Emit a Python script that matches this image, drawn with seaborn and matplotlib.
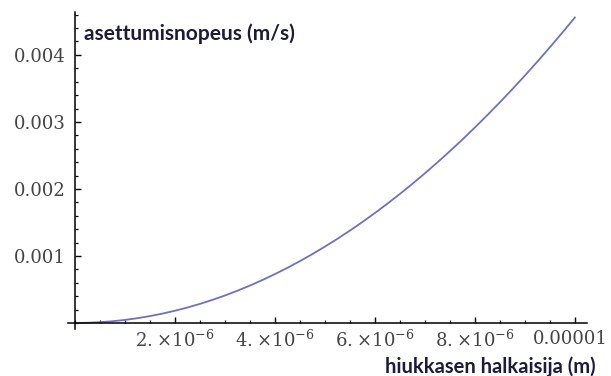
import numpy as np
import matplotlib
matplotlib.use("Agg")
import matplotlib.pyplot as plt
import matplotlib.transforms as mtrans
from matplotlib.ticker import MultipleLocator, FixedLocator, FixedFormatter
import seaborn as sns
import pandas as pd

# Data: particle diameter (m) vs settling velocity (m/s)
diameter = [0.0, 0.25e-6, 0.5e-6, 0.75e-6, 1.0e-6, 1.25e-6, 1.5e-6, 1.75e-6, 2.0e-6,
            2.25e-6, 2.5e-6, 2.75e-6, 3.0e-6, 3.25e-6, 3.5e-6, 3.75e-6, 4.0e-6,
            4.25e-6, 4.5e-6, 4.75e-6, 5.0e-6, 5.25e-6, 5.5e-6, 5.75e-6, 6.0e-6,
            6.25e-6, 6.5e-6, 6.75e-6, 7.0e-6, 7.25e-6, 7.5e-6, 7.75e-6, 8.0e-6,
            8.25e-6, 8.5e-6, 8.75e-6, 9.0e-6, 9.25e-6, 9.5e-6, 9.75e-6, 1.0e-5]
velocity = [0.0, 0.00000285, 0.0000114, 0.0000257, 0.0000456, 0.0000713, 0.0001026,
            0.0001397, 0.0001824, 0.0002309, 0.000285, 0.0003449, 0.0004104,
            0.0004817, 0.0005586, 0.0006413, 0.0007296, 0.0008237, 0.0009234,
            0.0010289, 0.00114, 0.0012569, 0.0013794, 0.0015077, 0.0016416,
            0.0017813, 0.0019266, 0.0020777, 0.0022344, 0.0023969, 0.002565,
            0.0027389, 0.0029184, 0.0031037, 0.0032946, 0.0034913, 0.0036936,
            0.0039017, 0.0041154, 0.0043349, 0.00456]

x_ticks = [2e-6, 4e-6, 6e-6, 8e-6, 1e-5]
x_tick_labels = [r"$2.\!\times\!10^{-6}$", r"$4.\!\times\!10^{-6}$", r"$6.\!\times\!10^{-6}$",
                 r"$8.\!\times\!10^{-6}$", "0.00001"]
y_ticks = [0.001, 0.002, 0.003, 0.004]
y_tick_labels = ["0.001", "0.002", "0.003", "0.004"]
x_label = "hiukkasen halkaisija (m)"
y_label = "asettumisnopeus (m/s)"

sns.set_style("white")
plt.rcParams["mathtext.fontset"] = "dejavuserif"

df = pd.DataFrame({"d": diameter, "v": velocity})

fig = plt.figure(figsize=(6.11, 3.76), dpi=100)
ax = fig.add_axes([68 / 611, 1 - 329 / 376, (587 - 68) / 611, (329 - 12) / 376])

sns.lineplot(data=df, x="d", y="v", ax=ax, color="#7070c0", linewidth=1.3)

ax.set_xlim(-1.4e-7, 1.024e-5)
ax.set_ylim(-0.00009, 0.00464)
ax.grid(False)

for s in ["top", "right"]:
    ax.spines[s].set_visible(False)
ax.spines["left"].set_position(("data", 0))
ax.spines["bottom"].set_position(("data", 0))
for s in ["left", "bottom"]:
    ax.spines[s].set_color("black")
    ax.spines[s].set_linewidth(1.1)

ax.xaxis.set_major_locator(FixedLocator(x_ticks))
ax.xaxis.set_major_formatter(FixedFormatter(x_tick_labels))
ax.xaxis.set_minor_locator(MultipleLocator(5e-7))
ax.yaxis.set_major_locator(FixedLocator(y_ticks))
ax.yaxis.set_major_formatter(FixedFormatter(y_tick_labels))
ax.yaxis.set_minor_locator(MultipleLocator(0.0002))

ax.tick_params(which="both", bottom=True, left=True, top=False, right=False)
ax.tick_params(which="major", direction="in", length=4, width=1.0, color="black",
               labelsize=13, labelcolor="#444444")
ax.tick_params(which="minor", direction="in", length=2.5, width=0.9, color="black")
ax.tick_params(axis="x", which="major", pad=5)
ax.tick_params(axis="y", which="major", pad=7)
for lab in ax.get_xticklabels() + ax.get_yticklabels():
    lab.set_family("DejaVu Serif")

# keep the last x label inside the canvas
last = ax.get_xticklabels()[-1]
last.set_transform(last.get_transform() + mtrans.ScaledTranslation(-5 / 100, 0, fig.dpi_scale_trans))

ax.set_xlabel("")
ax.set_ylabel("")

fig.text(84 / 611, 1 - 34 / 376, y_label, ha="left", va="center",
         fontsize=15, fontweight="bold", color="#1c1c3a", family="Lato")
fig.text(596 / 611, 1 - 367 / 376, x_label, ha="right", va="center",
         fontsize=14.5, fontweight="bold", color="#1c1c3a", family="Lato")

fig.savefig("out.png", dpi=100)
